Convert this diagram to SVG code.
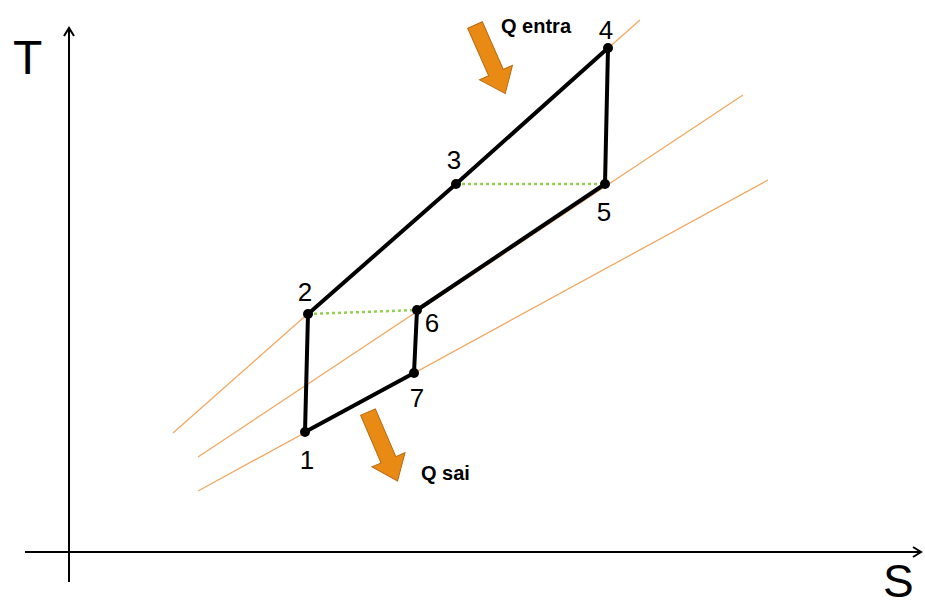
<svg xmlns="http://www.w3.org/2000/svg" width="925" height="608" viewBox="0 0 925 608">
<style>
.iso{stroke:#F2A861;stroke-width:1.3;fill:none}
.cyc{stroke:#000;stroke-width:4;fill:none;stroke-linejoin:round}
.dot{fill:#000}
.dash{stroke:#92D050;stroke-width:2.5;stroke-dasharray:3 3;fill:none}
.lbl{font-family:"Liberation Sans",Arial,sans-serif;font-size:26px;fill:#000;text-anchor:middle}
.q{font-family:"Liberation Sans",Arial,sans-serif;font-size:20px;font-weight:bold;fill:#000}
.ax{stroke:#000;stroke-width:2;fill:none}
.axl{font-family:"Liberation Sans",Arial,sans-serif;font-size:48px;fill:#000}
.heat{fill:#E98A14;stroke:#B96A0E;stroke-width:1}
</style>
<defs>
<marker id="ah" markerWidth="12" markerHeight="12" refX="10" refY="6" orient="auto" markerUnits="userSpaceOnUse">
<path d="M2,1 L10,6 L2,11" fill="none" stroke="#000" stroke-width="2"/>
</marker>
<path id="harrow" d="M0,-8 L52,-8 L52,-18 L75,0 L52,18 L52,8 L0,8 Z"/>
</defs>
<g id="axes">
<line class="ax" x1="69" y1="582" x2="69" y2="28" marker-end="url(#ah)"/>
<line class="ax" x1="25" y1="552" x2="921" y2="552" marker-end="url(#ah)"/>
<text class="axl" x="13" y="74">T</text>
<text class="axl" x="883" y="597" style="font-size:46px">S</text>
</g>
<g id="isobars">
<line class="iso" x1="173" y1="433" x2="640" y2="20"/>
<line class="iso" x1="198" y1="457" x2="743" y2="95"/>
<line class="iso" x1="198" y1="491" x2="768" y2="180"/>
</g>
<g id="connectors">
<polyline class="cyc" points="305,432 308,314 456,184 608,48 605,184 417,310 414,373 305,432"/>
<line class="dash" x1="308" y1="314" x2="417" y2="310"/>
<line class="dash" x1="456" y1="184" x2="605" y2="184"/>
</g>
<g id="n1"><circle class="dot" cx="305" cy="432" r="5"/><text class="lbl" x="307" y="469">1</text></g>
<g id="n2"><circle class="dot" cx="308" cy="314" r="5"/><text class="lbl" x="305" y="301">2</text></g>
<g id="n3"><circle class="dot" cx="456" cy="184" r="5"/><text class="lbl" x="454" y="169">3</text></g>
<g id="n4"><circle class="dot" cx="608" cy="48" r="5"/><text class="lbl" x="606" y="39">4</text></g>
<g id="n5"><circle class="dot" cx="605" cy="184" r="5"/><text class="lbl" x="604" y="221">5</text></g>
<g id="n6"><circle class="dot" cx="417" cy="310" r="5"/><text class="lbl" x="432" y="332">6</text></g>
<g id="n7"><circle class="dot" cx="414" cy="373" r="5"/><text class="lbl" x="417" y="407">7</text></g>
<g id="qin">
<use href="#harrow" class="heat" transform="translate(475,25) rotate(66.2)"/>
<text class="q" x="501" y="33">Q entra</text>
</g>
<g id="qout">
<use href="#harrow" class="heat" transform="translate(368,412) rotate(66.8)"/>
<text class="q" x="421" y="480">Q sai</text>
</g>
</svg>
